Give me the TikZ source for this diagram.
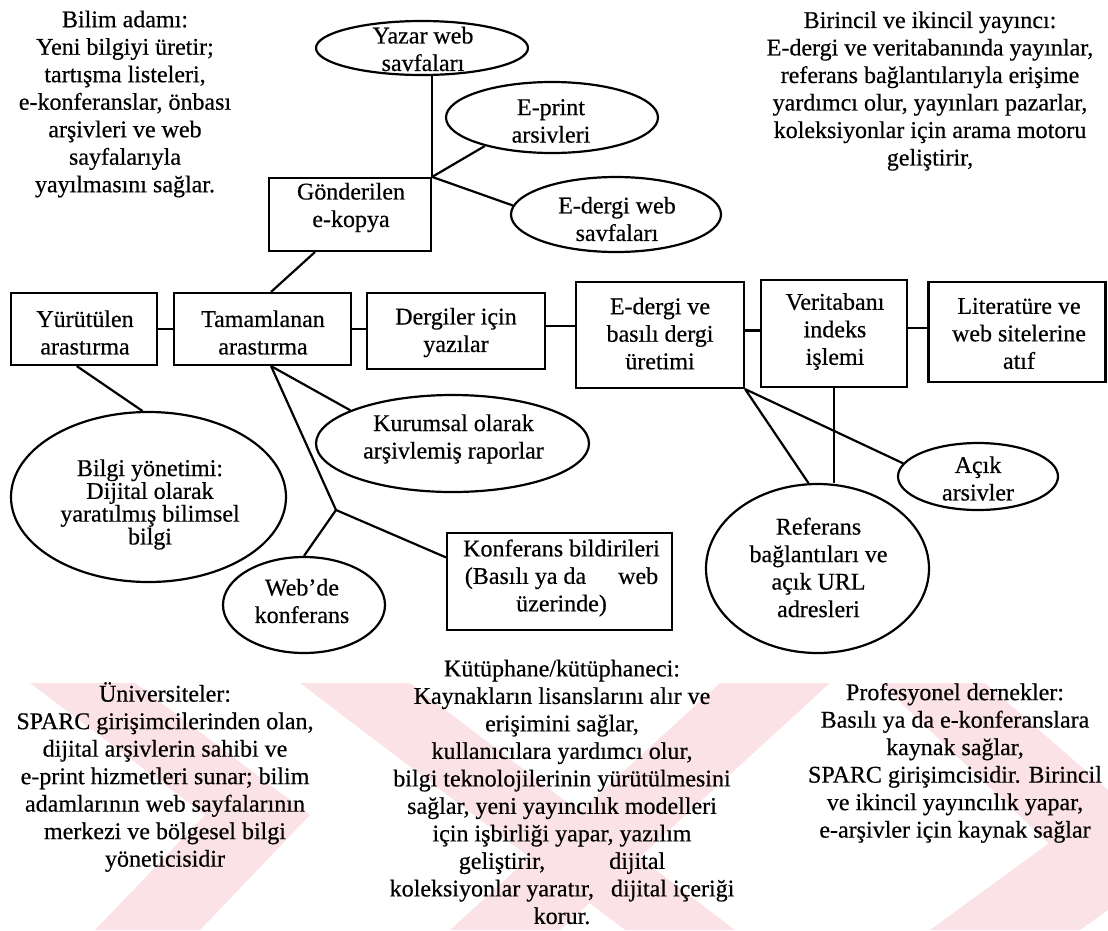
\documentclass[tikz,border=0pt]{standalone}
\usepackage{fontspec}
\setmainfont[FakeBold=0.5]{Liberation Serif}
\usetikzlibrary{shapes.geometric}
\definecolor{wmark}{RGB}{251,226,231}

\begin{document}
\begin{tikzpicture}[x=1pt,y=-1pt,
  box/.style={draw, line width=2.2pt, inner sep=0pt},
  oval/.style={draw, ellipse, line width=2.2pt, inner sep=0pt},
  lbl/.style={align=center, inner sep=0pt, font=\fontsize{24}{27.5}\selectfont},
  tight/.style={align=center, inner sep=0pt, font=\fontsize{24}{21.7}\selectfont},
  link/.style={line width=2.2pt},
  wm/.style={fill=wmark, draw=none}
]
\useasboundingbox (0,0) rectangle (1108,930);

% faint watermark bands behind the lower texts
\fill[wm] (30,683) -- (135,683) -- (310,815) -- (200,930) -- (95,930) -- (205,815) -- cycle;
\fill[wm] (300,683) -- (410,683) -- (735,930) -- (625,930) -- cycle;
\fill[wm] (720,683) -- (830,683) -- (560,930) -- (450,930) -- cycle;
\fill[wm] (880,683) -- (985,683) -- (1108,790) -- (1108,900) -- cycle;
\fill[wm] (1108,800) -- (1108,910) -- (1080,930) -- (930,930) -- cycle;

% free text blocks
\node[lbl] (bilim) at (125,104) {Bilim adamı:\\Yeni bilgiyi üretir;\\tartışma listeleri,\\e-konferanslar, önbası\\arşivleri ve web\\sayfalarıyla\\yayılmasını sağlar.};
\node[lbl] (yayinci) at (930,91) {Birincil ve ikincil yayıncı:\\E-dergi ve veritabanında yayınlar,\\referans bağlantılarıyla erişime\\yardımcı olur, yayınları pazarlar,\\koleksiyonlar için arama motoru\\geliştirir,};
\node[lbl] (univ) at (165,777) {Üniversiteler:\\SPARC girişimcilerinden olan,\\dijital arşivlerin sahibi ve\\e-print hizmetleri sunar; bilim\\adamlarının web sayfalarının\\merkezi ve bölgesel bilgi\\yöneticisidir};
\node[lbl] (kutup) at (562,792) {Kütüphane/kütüphaneci:\\Kaynakların lisanslarını alır ve\\erişimini sağlar,\\kullanıcılara yardımcı olur,\\bilgi teknolojilerinin yürütülmesini\\sağlar, yeni yayıncılık modelleri\\için işbirliği yapar, yazılım\\geliştirir,\hspace*{64pt}dijital\\koleksiyonlar yaratır,\hspace*{17pt}dijital içeriği\\korur.};
\node[lbl] (dernek) at (955,763) {Profesyonel dernekler:\\Basılı ya da e-konferanslara\\kaynak sağlar,\\SPARC girişimcisidir. Birincil\\ve ikincil yayıncılık yapar,\\e-arşivler için kaynak sağlar};

% rectangles
\node[box, minimum width=162pt, minimum height=73pt] (gon) at (350,214.5) {};
\node[box, minimum width=146pt, minimum height=72pt] (yur) at (84,329) {};
\node[box, minimum width=177pt, minimum height=72pt] (tam) at (262.5,329) {};
\node[box, minimum width=178pt, minimum height=76pt] (der) at (456,331) {};
\node[box, minimum width=168pt, minimum height=106pt] (ed) at (660,335) {};
\node[box, minimum width=146pt, minimum height=107pt] (ver) at (834,333.5) {};
\node[box, minimum width=177pt, minimum height=100pt] (lit) at (1017,332) {};
\node[box, minimum width=225pt, minimum height=97pt] (kon) at (559.5,581.5) {};

% ellipses
\node[oval, minimum width=212pt, minimum height=54pt] (yaz) at (422,48) {};
\node[oval, minimum width=212pt, minimum height=71pt] (ep) at (552,117.5) {};
\node[oval, minimum width=210pt, minimum height=75pt] (ew) at (616,214.5) {};
\node[oval, minimum width=273pt, minimum height=97pt] (kur) at (452.5,443.5) {};
\node[oval, minimum width=275pt, minimum height=170pt] (bil) at (148.5,497) {};
\node[oval, minimum width=162pt, minimum height=96pt] (web) at (304,605) {};
\node[oval, minimum width=160pt, minimum height=67pt] (aci) at (978,476.5) {};
\node[oval, minimum width=223pt, minimum height=169pt] (ref) at (817.5,568.5) {};

% labels inside the shapes
\node[lbl] (yazT) at (423,49) {Yazar web\\savfaları};
\node[lbl] (epT) at (551,121) {E-print\\arsivleri};
\node[lbl] (ewT) at (617,219) {E-dergi web\\savfaları};
\node[lbl] (gonT) at (351,207.5) {Gönderilen\\e-kopya};
\node[lbl] (yurT) at (85,332.5) {Yürütülen\\arastırma};
\node[lbl] (tamT) at (263,332.5) {Tamamlanan\\arastırma};
\node[lbl] (derT) at (456,332.5) {Dergiler için\\yazılar};
\node[lbl] (edT) at (660,333.5) {E-dergi ve\\basılı dergi\\üretimi};
\node[lbl] (verT) at (835,331.5) {Veritabanı\\indeks\\işlemi};
\node[lbl] (litT) at (1019,333.5) {Literatüre ve\\web sitelerine\\atıf};
\node[lbl] (kurT) at (453.5,439) {Kurumsal olarak\\arşivlemiş raporlar};
\node[tight] (bilT) at (150,504.5) {Bilgi yönetimi:\\Dijital olarak\\yaratılmış bilimsel\\bilgi};
\node[lbl] (webT) at (302,601) {Web’de\\konferans};
\node[lbl] (konT) at (561.5,578) {Konferans bildirileri\\(Basılı ya da\hspace*{32pt}web\\üzerinde)};
\node[lbl] (aciT) at (978,478.5) {Açık\\arsivler};
\node[lbl] (refT) at (818.5,567.5) {Referans\\bağlantıları ve\\açık URL\\adresleri};

% connectors
\coordinate (j) at (336,510);
\draw[link] (gon.north east) -- (gon.north east |- yaz.south);
\draw[link] (gon.north east) -- (ep.203);
\draw[link] (gon.north east) -- (ew.175);
\draw[link] (gon.227) -- (tam.77);
\draw[link] (yur.east) -- (tam.west);
\draw[link] (tam.east) -- (tam.east -| der.west);
\draw[link] (der.3) -- (der.3 -| ed.west);
\draw[link] (ed.3) -- (ed.3 -| ver.west);
\draw[link] (ver.4) -- (ver.4 -| lit.west);
\draw[link] (yur.259) -- (bil.94);
\draw[link] (tam.283) -- (kur.162);
\draw[link] (tam.283) -- (j);
\draw[link] (j) -- (web.north);
\draw[link] (j) -- (kon.168);
\draw[link] (ed.south east) -- (ref.96);
\draw[link] (ed.south east) -- (aci.170);
\draw[link] (ver.south) -- (ver.south |- ref.north);
\end{tikzpicture}
\end{document}
